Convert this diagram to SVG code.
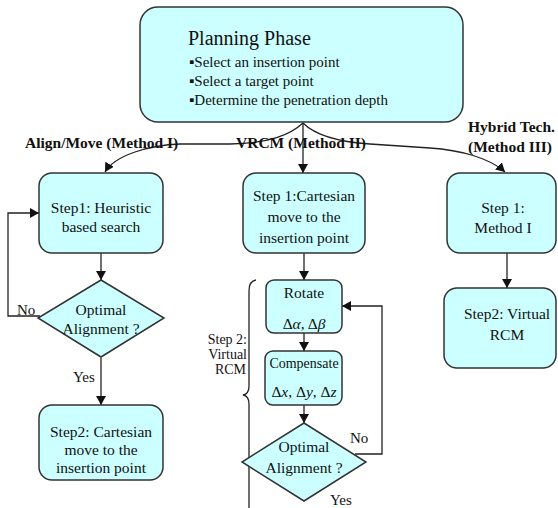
<svg xmlns="http://www.w3.org/2000/svg" width="558" height="508" viewBox="0 0 558 508">
<defs>
<marker id="ah" markerWidth="9" markerHeight="10" refX="9" refY="5" orient="auto" markerUnits="userSpaceOnUse">
<path d="M0,0 L9,5 L0,10 Z" fill="#111"/>
</marker>
<style>
text{font-family:'Liberation Serif','DejaVu Serif','Times New Roman',Times,serif;fill:#111}
.box{fill:#CCFFFF;stroke:#333;stroke-width:1.5}
.t{font-size:15.5px;text-anchor:middle}
.b{font-size:15.5px;font-weight:bold}
.l{font-size:15px}
.s{font-size:14px}
.c{fill:none;stroke:#222;stroke-width:1.3}
.a{marker-end:url(#ah)}
</style>
</defs>
<rect width="558" height="508" fill="#fff"/>

<g id="planning">
<rect class="box" x="140" y="7" width="323" height="115" rx="18"/>
<text x="188" y="45" font-size="20">Planning Phase</text>
<text class="l" x="189" y="67">▪Select an insertion point</text>
<text class="l" x="189" y="86">▪Select a target point</text>
<text class="l" x="189" y="105">▪Determine the penetration depth</text>
</g>

<g id="connectors">
<path class="c a" d="M303,123 C290,135 270,143 230,144 L180,144 C150,145 115,155 105,172"/>
<path class="c a" d="M303,123 L303,173"/>
<path class="c a" d="M303,123 C315,135 340,142 370,144 L430,148 C460,150 490,158 505,172"/>
<path class="c a" d="M101,253 L101,280"/>
<path class="c a" d="M101,358 L101,405"/>
<path class="c a" d="M40,316 L8,316 L8,213 L39,213"/>
<path class="c a" d="M304,253 L304,280"/>
<path class="c a" d="M304,333 L304,351"/>
<path class="c a" d="M304,405 L304,423"/>
<path class="c a" d="M355,454 L382,454 L382,306 L342,306"/>
<path class="c a" d="M507,253 L507,288"/>
<path class="c" d="M256,280 Q249,281 249,291 L249,386 Q249,394 243,395 Q249,396 249,404 L249,510"/>
</g>

<g id="labels">
<text class="b" x="25" y="148">Align/Move (Method I)</text>
<text class="b" x="236" y="148">VRCM (Method II)</text>
<text class="b" x="468" y="132">Hybrid Tech.</text>
<text class="b" x="468" y="152">(Method III)</text>
<text class="l" x="17" y="315">No</text>
<text class="l" x="73" y="382">Yes</text>
<text class="l" x="350" y="443">No</text>
<text class="l" x="330" y="505">Yes</text>
<text class="s" x="247" y="344" text-anchor="end">Step 2:</text>
<text class="s" x="247" y="359" text-anchor="end">Virtual</text>
<text class="s" x="246" y="374" text-anchor="end">RCM</text>
</g>

<g id="step1-heuristic">
<rect class="box" x="39" y="173" width="124" height="80" rx="13"/>
<text class="t" x="101" y="213">Step1: Heuristic</text>
<text class="t" x="101" y="232">based search</text>
</g>

<g id="decision-left">
<polygon class="box" points="101,280 164,318 101,357 38,318"/>
<text class="t" x="101" y="315">Optimal</text>
<text class="t" x="101" y="334">Alignment ?</text>
</g>

<g id="step2-cartesian">
<rect class="box" x="39" y="405" width="124" height="75" rx="13"/>
<text class="t" x="101" y="437">Step2: Cartesian</text>
<text class="t" x="101" y="455">move to the</text>
<text class="t" x="101" y="473">insertion point</text>
</g>

<g id="step1-cartesian">
<rect class="box" x="243" y="173" width="122" height="80" rx="13"/>
<text class="t" x="304" y="201">Step 1:Cartesian</text>
<text class="t" x="304" y="222">move to the</text>
<text class="t" x="304" y="243">insertion point</text>
</g>

<g id="rotate">
<rect class="box" x="266" y="280" width="76" height="53" rx="8"/>
<text class="t" x="304" y="298">Rotate</text>
<text class="t" x="304" y="329">Δ<tspan font-style="italic">α</tspan>, Δ<tspan font-style="italic">β</tspan></text>
</g>

<g id="compensate">
<rect class="box" x="265" y="351" width="77" height="54" rx="8"/>
<text class="t" x="304" y="368" style="font-size:14px">Compensate</text>
<text class="t" x="304" y="397">Δ<tspan font-style="italic">x</tspan>, Δ<tspan font-style="italic">y</tspan>, Δ<tspan font-style="italic">z</tspan></text>
</g>

<g id="decision-middle">
<polygon class="box" points="304,423 366,462 304,501 242,462"/>
<text class="t" x="304" y="452">Optimal</text>
<text class="t" x="304" y="473">Alignment ?</text>
</g>

<g id="step1-method1">
<rect class="box" x="447" y="173" width="109" height="80" rx="13"/>
<text class="t" x="503" y="213">Step 1:</text>
<text class="t" x="503" y="233">Method I</text>
</g>

<g id="step2-virtual">
<rect class="box" x="444" y="288" width="112" height="80" rx="13"/>
<text class="t" x="507" y="319">Step2: Virtual</text>
<text class="t" x="507" y="340">RCM</text>
</g>
</svg>
